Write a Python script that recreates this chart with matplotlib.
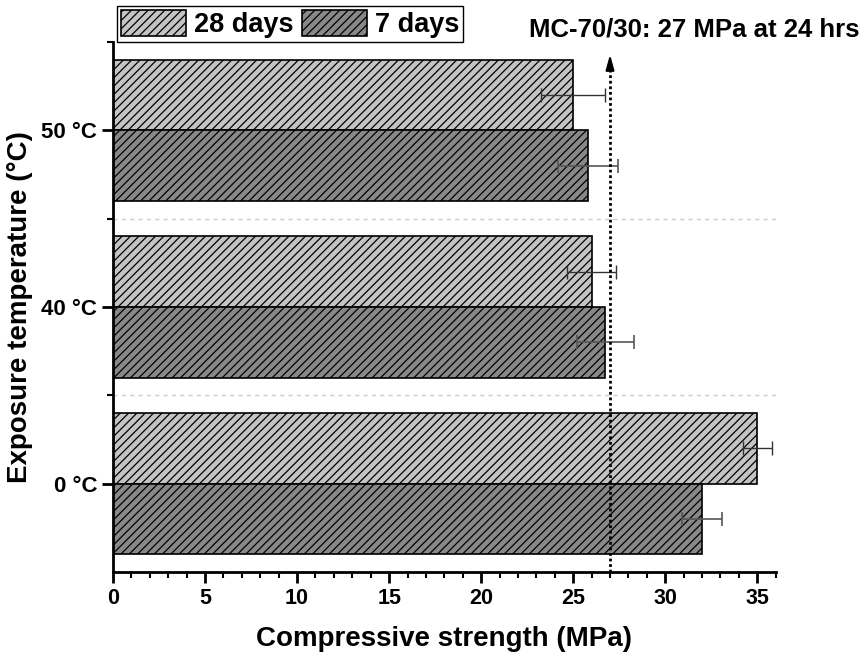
import matplotlib
matplotlib.use("Agg")
import matplotlib.pyplot as plt
import numpy as np

plt.rcParams['font.family'] = ['Liberation Sans', 'DejaVu Sans']
plt.rcParams['font.weight'] = 'bold'
plt.rcParams['hatch.linewidth'] = 0.9

temps = ['0 °C', '40 °C', '50 °C']
str_28d = [35.0, 26.0, 25.0]
err_28d = [0.8, 1.35, 1.75]
str_7d = [32.0, 26.75, 25.8]
err_7d = [1.1, 1.55, 1.65]
target = 27

y = np.arange(len(temps))
h = 0.4

fig = plt.figure(figsize=(8.64, 6.63), dpi=100)
ax = fig.add_axes([0.1308, 0.1373, 0.767, 0.7994])

b28 = ax.barh(y + h / 2, str_28d, h, color='#c4c4c4', edgecolor='black',
              linewidth=1.2, hatch='////', label='28 days', zorder=2)
b7 = ax.barh(y - h / 2, str_7d, h, color='#888888', edgecolor='black',
             linewidth=1.2, hatch='////', label='7 days', zorder=2)
ax.errorbar(str_28d, y + h / 2, xerr=err_28d, fmt='none', ecolor='#333333',
            elinewidth=1, capsize=5, capthick=1, zorder=3)
ax.errorbar(str_7d, y - h / 2, xerr=err_7d, fmt='none', ecolor='#555555',
            elinewidth=1.2, capsize=5, capthick=1.2, zorder=3)

# separators between groups
for s in [0.5, 1.5]:
    ax.axhline(s, color='#cccccc', lw=1, ls=(0, (3, 3)), zorder=1)

# reference line with arrow
ax.plot([target, target], [-0.5, 2.36], color='black', lw=2, ls=(0, (1, 1)),
        zorder=4, clip_on=False)
ax.annotate('', xy=(target, 2.445), xytext=(target, 2.34),
            arrowprops=dict(arrowstyle='-|>,head_width=0.25,head_length=0.9',
                            color='black', lw=1.5), annotation_clip=False)
ax.text(31.6, 2.57, 'MC-70/30: 27 MPa at 24 hrs', ha='center', va='center',
        fontsize=18.5, fontweight='bold', clip_on=False)

ax.set_xlim(0, 36)
ax.set_ylim(-0.5, 2.5)
ax.set_xticks(np.arange(0, 36, 5))
ax.set_xticks(np.arange(0, 37, 1), minor=True)
ax.set_yticks(y)
ax.set_yticklabels(temps)
ax.set_yticks([0.5, 1.5, 2.5], minor=True)

for sp in ['top', 'right']:
    ax.spines[sp].set_visible(False)
for sp in ['left', 'bottom']:
    ax.spines[sp].set_linewidth(2)

ax.tick_params(axis='both', which='major', length=8, width=2)
ax.tick_params(axis='x', which='major', labelsize=15.5)
ax.tick_params(axis='y', which='major', labelsize=16)
ax.tick_params(axis='both', which='minor', length=4.5, width=1.5)
for lab in ax.get_xticklabels() + ax.get_yticklabels():
    lab.set_fontweight('bold')

ax.set_xlabel('Compressive strength (MPa)', fontsize=20, fontweight='bold',
              labelpad=12)
ax.set_ylabel('Exposure temperature (°C)', fontsize=20, fontweight='bold',
              labelpad=6)

leg = ax.legend(handles=[b28, b7], loc='upper left', ncol=2,
                bbox_to_anchor=(117 / 864, 1 - 6 / 663),
                bbox_transform=fig.transFigure, fontsize=19.5, frameon=True,
                fancybox=False, edgecolor='black', framealpha=1,
                handlelength=2.4, handleheight=1.1, handletextpad=0.3,
                columnspacing=0.3, borderpad=0.15, borderaxespad=0)
leg.get_frame().set_linewidth(1)
for t in leg.get_texts():
    t.set_fontweight('bold')

fig.savefig('out.png', dpi=100)
